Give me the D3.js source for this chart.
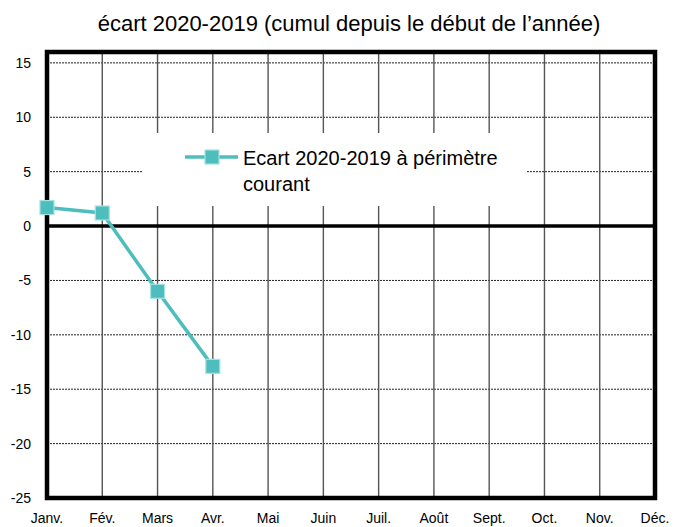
<!DOCTYPE html>
<html>
<head>
<meta charset="utf-8">
<script src="https://cdn.jsdelivr.net/npm/d3@7"></script>
<style>
  body { margin: 0; background: #fff; }
  text { font-family: "Liberation Sans", Arial, sans-serif; fill: #000; }
</style>
</head>
<body>
<div id="chart"></div>
<script>
// data
var months = ["Janv.", "Fév.", "Mars", "Avr.", "Mai", "Juin", "Juil.", "Août", "Sept.", "Oct.", "Nov.", "Déc."];
var ecartMonths = ["Janv.", "Fév.", "Mars", "Avr."];
var ecartValues = [1.7, 1.2, -6.0, -12.9];
var yTicks = [15, 10, 5, 0, -5, -10, -15, -20, -25];
var seriesName = ["Ecart 2020-2019 à périmètre", "courant"];
var title = "écart 2020-2019 (cumul depuis le début de l’année)";

var width = 684, height = 527;
var teal = "#4dbdbd";

var svg = d3.select("#chart")
    .append("svg")
    .attr("width", width)
    .attr("height", height);

var x = d3.scalePoint()
    .domain(months)
    .range([47, 655]);

var y = d3.scaleLinear()
    .domain([-25, 16])
    .range([498, 52]);

// title
svg.append("text")
    .attr("x", 349)
    .attr("y", 31)
    .attr("text-anchor", "middle")
    .style("font-size", "22px")
    .text(title);

// horizontal dotted grid
svg.selectAll("hgrid")
    .data(yTicks.filter(function (d) { return d !== 0 && d !== -25; }))
    .enter()
    .append("line")
    .attr("x1", x("Janv.")).attr("x2", x("Déc."))
    .attr("y1", function (d) { return y(d); })
    .attr("y2", function (d) { return y(d); })
    .attr("stroke", "#222")
    .attr("stroke-width", 1)
    .attr("stroke-dasharray", "2,1");

// vertical grid on months
svg.selectAll("vgrid")
    .data(months.slice(1, 11))
    .enter()
    .append("line")
    .attr("x1", function (d) { return x(d); })
    .attr("x2", function (d) { return x(d); })
    .attr("y1", y(16)).attr("y2", y(-25))
    .attr("stroke", "#555")
    .attr("stroke-width", 1.4);

// legend background hides the grid
svg.append("rect")
    .attr("x", 143).attr("y", 133)
    .attr("width", 383).attr("height", 73)
    .attr("fill", "#fff");

// zero line
svg.append("line")
    .attr("x1", x("Janv.")).attr("x2", x("Déc."))
    .attr("y1", y(0)).attr("y2", y(0))
    .attr("stroke", "#000")
    .attr("stroke-width", 3.5);

// frame
svg.append("rect")
    .attr("x", x("Janv.")).attr("y", y(16))
    .attr("width", x("Déc.") - x("Janv."))
    .attr("height", y(-25) - y(16))
    .attr("fill", "none")
    .attr("stroke", "#000")
    .attr("stroke-width", 4.5);

// y axis labels
svg.selectAll("ylabels")
    .data(yTicks)
    .enter()
    .append("text")
    .attr("x", 31)
    .attr("y", function (d) { return y(d) + 5; })
    .attr("text-anchor", "end")
    .style("font-size", "14px")
    .text(function (d) { return d; });

// x axis labels
svg.selectAll("xlabels")
    .data(months)
    .enter()
    .append("text")
    .attr("x", function (d) { return x(d); })
    .attr("y", 523)
    .attr("text-anchor", "middle")
    .style("font-size", "14px")
    .text(function (d) { return d; });

// series line
var pts = ecartMonths.map(function (m, i) { return [x(m), y(ecartValues[i])]; });
svg.append("path")
    .attr("d", d3.line()(pts))
    .attr("fill", "none")
    .attr("stroke", teal)
    .attr("stroke-width", 3.5);

svg.selectAll("markers")
    .data(pts)
    .enter()
    .append("rect")
    .attr("x", function (d) { return d[0] - 7; })
    .attr("y", function (d) { return d[1] - 7; })
    .attr("width", 14).attr("height", 14)
    .attr("fill", teal)
    .attr("stroke", "#a6e2e2")
    .attr("stroke-width", 1.2);

// legend
svg.append("line")
    .attr("x1", 185).attr("x2", 238)
    .attr("y1", 157).attr("y2", 157)
    .attr("stroke", teal)
    .attr("stroke-width", 3.5);
svg.append("rect")
    .attr("x", 205).attr("y", 150)
    .attr("width", 14).attr("height", 14)
    .attr("fill", teal)
    .attr("stroke", "#a6e2e2")
    .attr("stroke-width", 1.2);
svg.selectAll("legendText")
    .data(seriesName)
    .enter()
    .append("text")
    .attr("x", 243)
    .attr("y", function (d, i) { return 165 + i * 26; })
    .style("font-size", "20px")
    .text(function (d) { return d; });
</script>
</body>
</html>
